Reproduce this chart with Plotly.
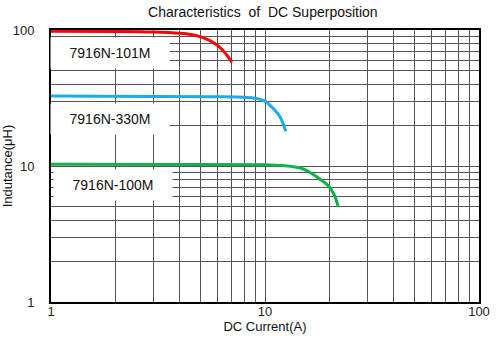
import math
import plotly.graph_objects as go

# Data
red_x = [1, 2, 3, 4, 4.5, 5, 5.5, 6, 6.5, 7.0]
red_y = [98, 97.5, 96.5, 94.5, 92.5, 89, 84, 77, 68, 58]
blue_x = [1, 3, 6, 8, 9, 10, 10.5, 11, 11.75, 12.5]
blue_y = [32.7, 32.5, 32.3, 32.0, 31.5, 30, 28.2, 26.2, 23, 18]
green_x = [1, 5, 10, 12, 14.5, 16, 17.5, 19.7, 21, 22]
green_y = [10.3, 10.27, 10.2, 10.1, 9.7, 9.1, 8.3, 7.2, 6.2, 5.0]
labels = ["7916N-101M", "7916N-330M", "7916N-100M"]
label_x = [1.89, 1.89, 1.95]
label_y = [67.8, 22.2, 7.24]

x_ticks = [1, 2, 3, 4, 5, 6, 7, 8, 9, 10, 20, 30, 40, 50, 60, 70, 80, 90, 100]
x_text = ["1"] + [""] * 8 + ["10"] + [""] * 8 + ["100"]

FONT = "Liberation Sans, Arial"

fig = go.Figure()
for xs, ys, c in [(red_x, red_y, "#ff0000"), (blue_x, blue_y, "#1aabf0"), (green_x, green_y, "#11b04a")]:
    fig.add_trace(go.Scatter(x=xs, y=ys, mode="lines", line=dict(color=c, width=3, shape="spline"),
                             showlegend=False, hoverinfo="skip"))

for t, lx, ly in zip(labels, label_x, label_y):
    fig.add_annotation(x=math.log10(lx), y=math.log10(ly), xref="x", yref="y", text=t, showarrow=False,
                       xanchor="center", yanchor="middle", bgcolor="white", borderpad=0,
                       width=118, height=30, align="center",
                       font=dict(family=FONT, size=14, color="#111"))

axis_common = dict(type="log", tickvals=x_ticks, ticktext=x_text, showgrid=True, gridcolor="#555555",
                   gridwidth=1, showline=True, linecolor="black", linewidth=2, mirror=True,
                   ticks="", zeroline=False, automargin=False,
                   tickfont=dict(family=FONT, size=13, color="#222"))

fig.update_xaxes(range=[0, 2], ticklabelstandoff=-4, title=dict(text="DC Current(A)", standoff=0,
                 font=dict(family=FONT, size=13, color="#111")), **axis_common)
fig.update_yaxes(range=[0, 2], ticklabelstandoff=12, title=dict(text="Indutance(μH)", standoff=2,
                 font=dict(family=FONT, size=13, color="#111")), **axis_common)

fig.update_layout(
    width=496, height=345,
    margin=dict(l=51, r=17, t=30, b=43),
    paper_bgcolor="white", plot_bgcolor="white",
    title=dict(text="Characteristics  of  DC Superposition", x=0.53, xanchor="center", y=0.965, yanchor="middle",
               font=dict(family=FONT, size=14, color="#111")),
)

fig.write_html("out.html")
